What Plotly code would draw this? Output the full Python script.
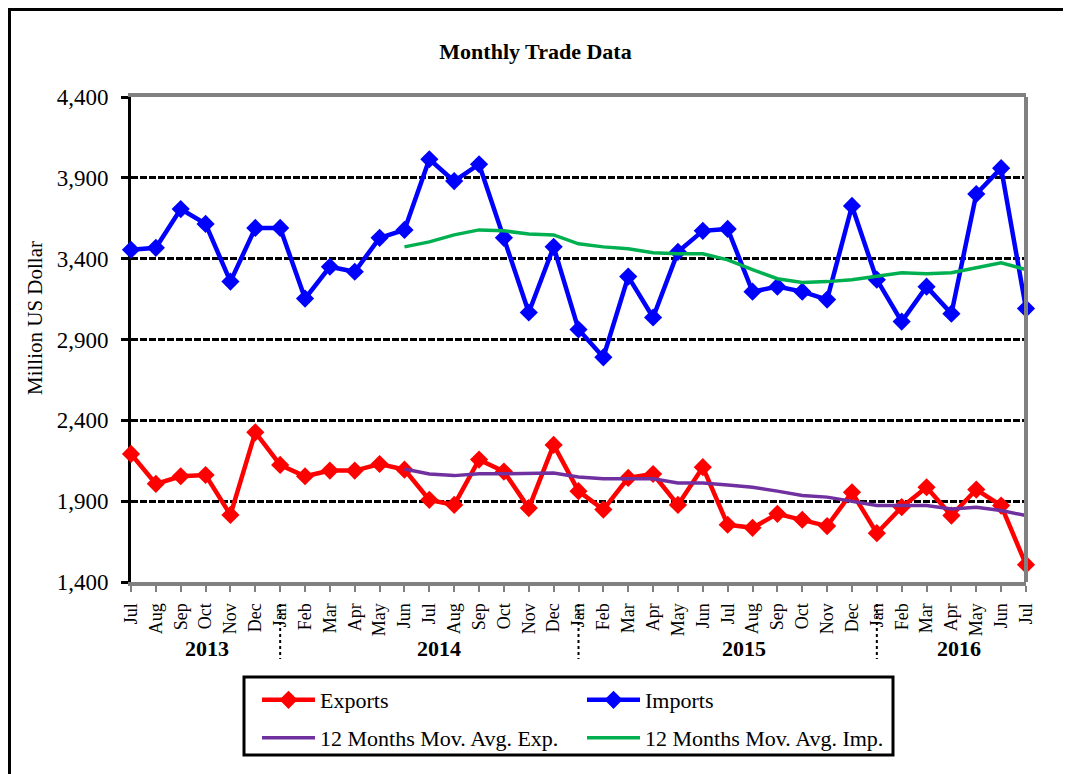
import plotly.graph_objects as go

months = ["Jul", "Aug", "Sep", "Oct", "Nov", "Dec",
          "Jan", "Feb", "Mar", "Apr", "May", "Jun", "Jul", "Aug", "Sep", "Oct", "Nov", "Dec",
          "Jan", "Feb", "Mar", "Apr", "May", "Jun", "Jul", "Aug", "Sep", "Oct", "Nov", "Dec",
          "Jan", "Feb", "Mar", "Apr", "May", "Jun", "Jul"]

exports = [2192, 2007, 2054, 2062, 1815, 2326,
           2124, 2054, 2089, 2089, 2130, 2095, 1908, 1877, 2157, 2083, 1857, 2248,
           1962, 1848, 2044, 2068, 1877, 2110, 1754, 1735, 1822, 1785, 1746, 1955,
           1702, 1863, 1986, 1811, 1972, 1873, 1507]

imports = [3455, 3467, 3707, 3615, 3258, 3590,
           3590, 3153, 3350, 3319, 3529, 3578, 4015, 3880, 3984, 3529, 3067, 3473,
           2962, 2790, 3289, 3036, 3442, 3572, 3584, 3196, 3227, 3196, 3147, 3726,
           3270, 3011, 3227, 3060, 3800, 3960, 3091]

ma_exports = [None] * 11 + [2099, 2068, 2058, 2070, 2070, 2070, 2074,
                            2050, 2038, 2038, 2038, 2013, 2013, 2000, 1986, 1962, 1935, 1925, 1898,
                            1873, 1873, 1873, 1852, 1863, 1842, 1811]

ma_imports = [None] * 11 + [3473, 3504, 3547, 3578, 3572, 3553, 3547,
                            3492, 3473, 3461, 3436, 3430, 3430, 3393, 3332, 3276, 3252, 3258, 3270,
                            3289, 3313, 3307, 3313, 3344, 3375, 3332]

years = ["2013", "2014", "2015", "2016"]
year_label_pos = [3.06, 12.4, 24.66, 33.3]
year_breaks = [6, 18, 30]

y_ticks = [1400, 1900, 2400, 2900, 3400, 3900, 4400]

x = list(range(len(months)))
FONT = "Liberation Serif, Times New Roman, serif"

# page offset (default body margin of the html page)
OFF = 8
W, H = 1071 - OFF, 774 - OFF
# plot area in screen pixels
L, R, T, B = 131, 1026, 97, 582
pw, ph = R - L, B - T


def px_x(p):
    return (p - L) / pw


def px_y(p):
    return (B - p) / ph


fig = go.Figure()
fig.add_trace(go.Scatter(x=x, y=exports, name="Exports", mode="lines+markers",
                         line=dict(color="#FF0000", width=4.5),
                         marker=dict(symbol="diamond", size=14, color="#FF0000"),
                         cliponaxis=False, legend="legend"))
fig.add_trace(go.Scatter(x=x, y=imports, name="Imports", mode="lines+markers",
                         line=dict(color="#0000FF", width=4.5),
                         marker=dict(symbol="diamond", size=14, color="#0000FF"),
                         cliponaxis=False, legend="legend2"))
fig.add_trace(go.Scatter(x=x, y=ma_exports, name="12 Months Mov. Avg. Exp.", mode="lines",
                         line=dict(color="#7030A0", width=3.5),
                         cliponaxis=False, legend="legend3"))
fig.add_trace(go.Scatter(x=x, y=ma_imports, name="12 Months Mov. Avg. Imp.", mode="lines",
                         line=dict(color="#00B050", width=3.5),
                         cliponaxis=False, legend="legend4"))

shapes = []
# outer frame
shapes.append(dict(type="rect", xref="paper", yref="paper",
                   x0=px_x(9.5), x1=px_x(1069), y0=px_y(800), y1=px_y(9.5),
                   line=dict(color="black", width=3), layer="above"))
# right border (gray)
shapes.append(dict(type="line", xref="paper", yref="paper", x0=1, x1=1, y0=0, y1=1,
                   line=dict(color="#808080", width=4), layer="above"))
# year separators
for b in year_breaks:
    shapes.append(dict(type="line", xref="x", yref="paper", x0=b, x1=b,
                       y0=px_y(604), y1=px_y(659),
                       line=dict(color="black", width=2, dash="dot"), layer="above"))
# legend box
shapes.append(dict(type="rect", xref="paper", yref="paper",
                   x0=px_x(244), x1=px_x(893), y0=px_y(755), y1=px_y(677),
                   line=dict(color="black", width=3), layer="above"))

annotations = []
for yr, pos in zip(years, year_label_pos):
    annotations.append(dict(x=pos, y=px_y(648), xref="x", yref="paper", text=f"<b>{yr}</b>",
                            showarrow=False, font=dict(family=FONT, size=22, color="black"),
                            xanchor="center", yanchor="middle"))
annotations.append(dict(x=px_x(35), y=px_y(318), xref="paper", yref="paper",
                        text="Million US Dollar", textangle=-90, showarrow=False,
                        font=dict(family=FONT, size=21, color="black"),
                        xanchor="center", yanchor="middle"))

legend_common = dict(orientation="h", font=dict(family=FONT, size=22, color="black"),
                     bgcolor="rgba(0,0,0,0)", borderwidth=0, itemwidth=53,
                     xanchor="left", yanchor="middle", xref="paper", yref="paper")

col1, col2 = 257, 582
row1, row2 = 700, 738

fig.update_layout(
    width=W, height=H,
    margin=dict(l=L - OFF, r=W - (R - OFF), t=T - OFF, b=H - (B - OFF), pad=0),
    paper_bgcolor="white", plot_bgcolor="white",
    showlegend=True,
    title=dict(text="<b>Monthly Trade Data</b>", x=(535.5 - OFF) / W, xref="container",
               xanchor="center", y=1 - (51 - OFF) / H, yref="container", yanchor="middle",
               font=dict(family=FONT, size=22, color="black")),
    font=dict(family=FONT, color="black"),
    xaxis=dict(range=[0, len(months) - 1], tickmode="array", tickvals=x, ticktext=months,
               tickangle=-90, tickfont=dict(family=FONT, size=18, color="black"),
               ticks="outside", ticklen=6, tickwidth=2, tickcolor="#808080",
               showline=True, linecolor="#808080", linewidth=4, mirror=True,
               showgrid=False, zeroline=False, layer="below traces", ticklabelstandoff=4),
    yaxis=dict(range=[1400, 4400], tickmode="array", tickvals=y_ticks,
               ticktext=[f"{v:,}" for v in y_ticks],
               tickfont=dict(family=FONT, size=23, color="black"),
               ticks="outside", ticklen=7, tickwidth=3, tickcolor="black",
               showline=True, linecolor="black", linewidth=3, mirror=False,
               showgrid=True, gridcolor="black", gridwidth=3, griddash="7px,2px",
               zeroline=False, layer="below traces", ticklabelstandoff=8),
    legend=dict(x=px_x(col1), y=px_y(row1), **legend_common),
    legend2=dict(x=px_x(col2), y=px_y(row1), **legend_common),
    legend3=dict(x=px_x(col1), y=px_y(row2), **legend_common),
    legend4=dict(x=px_x(col2), y=px_y(row2), **legend_common),
    shapes=shapes,
    annotations=annotations,
)

fig.write_html("out.html")
